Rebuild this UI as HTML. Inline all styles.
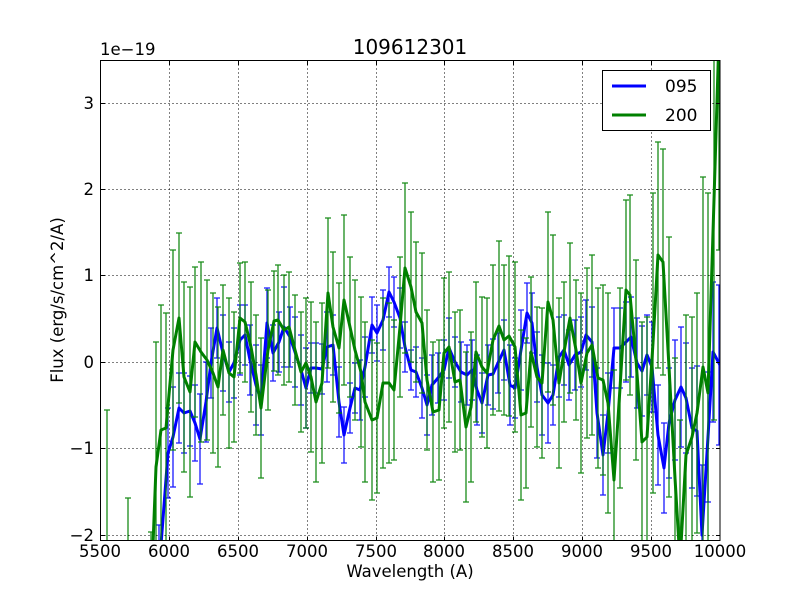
<!DOCTYPE html>
<html><head><meta charset="utf-8"><style>
html,body{margin:0;padding:0;background:#fff;width:800px;height:600px;overflow:hidden}
svg{display:block}
text{font-family:"DejaVu Sans","Liberation Sans",sans-serif;fill:#000}
</style></head><body>
<svg width="800" height="600" viewBox="0 0 800 600" xmlns="http://www.w3.org/2000/svg">
<rect width="800" height="600" fill="#fff"/>
<defs><clipPath id="c"><rect x="100.5" y="60.5" width="619.5" height="480"/></clipPath></defs>
<g stroke="#000" stroke-width="1" stroke-dasharray="1,3" fill="none">
<path d="M169.5 60.5V540.5M238.5 60.5V540.5M307.5 60.5V540.5M376.5 60.5V540.5M444.5 60.5V540.5M513.5 60.5V540.5M582.5 60.5V540.5M651.5 60.5V540.5"/>
<path d="M100.5 103.5H720M100.5 189.5H720M100.5 275.5H720M100.5 362.5H720M100.5 448.5H720M100.5 535.5H720"/>
</g>
<g clip-path="url(#c)">
<path fill="none" stroke="#0000ff" stroke-opacity="0.9" stroke-width="1.3" d="M159 525V545M156 525h6M168 408V498M165 408h6M165 498h6M173 387V487M170 387h6M170 487h6M179 373V443M176 373h6M176 443h6M184 373V453M181 373h6M181 453h6M190 376V446M187 376h6M187 446h6M195 385V461M192 385h6M192 461h6M200 394V484M197 394h6M197 484h6M206 362V442M203 362h6M203 442h6M211 328V398M208 328h6M208 398h6M217 298V358M214 298h6M214 358h6M223 315V391M220 315h6M220 391h6M229 342V402M226 342h6M226 402h6M234 328V398M231 328h6M231 398h6M240 305V375M237 305h6M237 375h6M245 305V365M242 305h6M242 365h6M250 325V395M247 325h6M247 395h6M256 345V425M253 345h6M253 425h6M261 365V435M258 365h6M258 435h6M267 288V358M264 288h6M264 358h6M273 325V381M270 325h6M270 381h6M279 312V372M276 312h6M276 372h6M284 287V367M281 287h6M281 367h6M290 307V367M287 307h6M287 367h6M295 317V387M292 317h6M292 387h6M301 335V405M298 335h6M298 405h6M306 348V428M303 348h6M303 428h6M311 343V393M308 343h6M308 393h6M316 343V393M313 343h6M313 393h6M322 344V394M319 344h6M319 394h6M327 312V382M324 312h6M324 382h6M333 315V375M330 315h6M330 375h6M339 367V437M336 367h6M336 437h6M344 407V463M341 407h6M341 463h6M350 383V433M347 383h6M347 433h6M355 363V413M352 363h6M352 413h6M360 360V420M357 360h6M357 420h6M365 337V397M362 337h6M362 397h6M372 297V353M369 297h6M369 353h6M377 305V361M374 305h6M374 361h6M383 290V350M380 290h6M380 350h6M389 267V317M386 267h6M386 317h6M394 277V327M391 277h6M391 327h6M400 288V348M397 288h6M397 348h6M405 322V372M402 322h6M402 372h6M411 350V390M408 350h6M408 390h6M416 347V397M413 347h6M413 397h6M422 358V418M419 358h6M419 418h6M427 375V435M424 375h6M424 435h6M432 355V415M429 355h6M429 415h6M438 353V403M435 353h6M435 403h6M444 340V400M441 340h6M441 400h6M449 318V378M446 318h6M446 378h6M455 337V387M452 337h6M452 387h6M461 342V402M458 342h6M458 402h6M467 345V405M464 345h6M464 405h6M472 340V400M469 340h6M469 400h6M477 355V425M474 355h6M474 425h6M482 373V433M479 373h6M479 433h6M488 345V405M485 345h6M485 405h6M493 339V409M490 339h6M490 409h6M498 333V393M495 333h6M495 393h6M504 320V380M501 320h6M501 380h6M510 345V425M507 345h6M507 425h6M515 358V418M512 358h6M512 418h6M521 310V390M518 310h6M518 390h6M527 283V343M524 283h6M524 343h6M532 293V353M529 293h6M529 353h6M537 332V402M534 332h6M534 402h6M542 355V435M539 355h6M539 435h6M548 363V443M545 363h6M545 443h6M553 365V425M550 365h6M550 425h6M559 317V397M556 317h6M556 397h6M564 315V385M561 315h6M561 385h6M569 330V400M566 330h6M566 400h6M575 320V390M572 320h6M572 390h6M581 317V387M578 317h6M578 387h6M586 300V370M583 300h6M583 370h6M592 307V377M589 307h6M589 377h6M597 368V458M594 368h6M594 458h6M603 415V495M600 415h6M600 495h6M608 373V453M605 373h6M605 453h6M614 308V388M611 308h6M611 388h6M620 308V388M617 308h6M617 388h6M626 302V382M623 302h6M623 382h6M631 297V377M628 297h6M628 377h6M637 318V408M634 318h6M634 408h6M642 326V416M639 326h6M639 416h6M647 315V395M644 315h6M644 395h6M652 322V412M649 322h6M649 412h6M658 385V485M655 385h6M655 485h6M664 423V513M661 423h6M661 513h6M669 368V478M666 368h6M666 478h6M675 340V460M672 340h6M672 460h6M681 327V447M678 327h6M678 447h6M686 343V453M683 343h6M683 453h6M692 368V488M689 368h6M689 488h6M697 366V496M694 366h6M694 496h6M702 465V545M699 465h6M708 372V502M705 372h6M705 502h6M713 282V422M710 282h6M710 422h6M719 285V445M716 285h6M716 445h6"/>
<polyline fill="none" stroke="#0000ff" stroke-width="3" stroke-linejoin="round" points="161,545 168,453 173,437 179,408 184,413 190,411 195,423 200,439 206,402 211,363 217,328 223,353 229,372 234,363 240,340 245,335 250,360 256,385 261,400 267,323 273,353 279,342 284,327 290,337 295,352 301,370 306,388 311,368 316,368 322,369 327,347 333,345 339,402 344,435 350,408 355,388 360,390 365,367 372,325 377,333 383,320 389,292 394,302 400,318 405,347 411,370 416,372 422,388 427,405 432,385 438,378 444,370 449,348 455,362 461,372 467,375 472,370 477,390 482,403 488,375 493,374 498,363 504,350 510,385 515,388 521,350 527,313 532,323 537,367 542,395 548,403 553,395 559,357 564,350 569,365 575,355 581,352 586,335 592,342 597,413 603,455 608,413 614,348 620,348 626,342 631,337 637,363 642,371 647,355 652,367 658,435 664,468 669,423 675,400 681,387 686,398 692,428 697,431 702,535 708,437 713,352 720,365"/>
<path fill="none" stroke="#008000" stroke-opacity="0.9" stroke-width="1.3" d="M107 410V545M104 410h6M128 498V545M125 498h6M151 532V545M148 532h6M156 342V545M153 342h6M161 305V545M158 305h6M166 313V543M163 313h6M173 250V450M170 250h6M170 450h6M179 233V403M176 233h6M176 403h6M184 282V472M181 282h6M181 472h6M190 287V497M187 287h6M187 497h6M195 267V417M192 267h6M192 417h6M201 262V442M198 262h6M198 442h6M207 280V440M204 280h6M204 440h6M213 293V453M210 293h6M210 453h6M218 307V467M215 307h6M215 467h6M223 285V415M220 285h6M220 415h6M229 298V448M226 298h6M226 448h6M234 312V442M231 312h6M231 442h6M240 263V373M237 263h6M237 373h6M245 262V382M242 262h6M242 382h6M251 282V412M248 282h6M248 412h6M256 315V435M253 315h6M253 435h6M261 338V478M258 338h6M258 478h6M268 290V410M265 290h6M265 410h6M274 271V371M271 271h6M271 371h6M278 265V375M275 265h6M275 375h6M284 275V385M281 275h6M281 385h6M289 272V382M286 272h6M286 382h6M295 295V405M292 295h6M292 405h6M301 312V432M298 312h6M298 432h6M306 298V428M303 298h6M303 428h6M311 302V452M308 302h6M308 452h6M316 322V482M313 322h6M313 482h6M322 303V463M319 303h6M319 463h6M328 218V368M325 218h6M325 368h6M333 252V402M330 252h6M330 402h6M339 283V413M336 283h6M336 413h6M344 215V385M341 215h6M341 385h6M350 257V397M347 257h6M347 397h6M355 280V420M352 280h6M352 420h6M361 297V447M358 297h6M358 447h6M365 322V482M362 322h6M362 482h6M372 340V500M369 340h6M369 500h6M377 343V493M374 343h6M374 493h6M383 298V468M380 298h6M380 468h6M389 303V463M386 303h6M386 463h6M394 320V460M391 320h6M391 460h6M400 257V397M397 257h6M397 397h6M405 183V353M402 183h6M402 353h6M411 212V362M408 212h6M408 362h6M416 242V382M413 242h6M413 382h6M422 253V393M419 253h6M419 393h6M427 310V450M424 310h6M424 450h6M433 342V482M430 342h6M430 482h6M439 340V480M436 340h6M436 480h6M444 278V428M441 278h6M441 428h6M449 272V422M446 272h6M446 422h6M455 312V452M452 312h6M452 452h6M460 310V450M457 310h6M457 450h6M466 352V502M463 352h6M463 502h6M471 332V482M468 332h6M468 482h6M476 282V422M473 282h6M473 422h6M482 297V437M479 297h6M479 437h6M487 298V448M484 298h6M484 448h6M493 265V415M490 265h6M490 415h6M499 241V411M496 241h6M496 411h6M504 265V415M501 265h6M501 415h6M509 256V416M506 256h6M506 416h6M515 262V432M512 262h6M512 432h6M521 330V500M518 330h6M518 500h6M526 338V488M523 338h6M523 488h6M531 277V427M528 277h6M528 427h6M537 307V447M534 307h6M534 447h6M542 308V458M539 308h6M539 458h6M548 212V392M545 212h6M545 392h6M553 235V405M550 235h6M550 405h6M559 298V468M556 298h6M556 468h6M564 282V422M561 282h6M561 422h6M570 243V393M567 243h6M567 393h6M576 280V420M573 280h6M573 420h6M581 293V473M578 293h6M578 473h6M587 268V438M584 268h6M584 438h6M592 255V435M589 255h6M589 435h6M598 288V468M595 288h6M595 468h6M603 285V475M600 285h6M600 475h6M608 293V513M605 293h6M605 513h6M614 370V545M611 370h6M620 288V488M617 288h6M617 488h6M626 200V380M623 200h6M623 380h6M630 195V395M627 195h6M627 395h6M636 260V460M633 260h6M633 460h6M642 322V545M639 322h6M647 317V545M644 317h6M653 193V493M650 193h6M650 493h6M658 142V368M655 142h6M655 368h6M663 149V375M660 149h6M660 375h6M669 237V497M666 237h6M666 497h6M675 358V545M672 358h6M680 420V545M677 420h6M686 315V545M683 315h6M692 317V545M689 317h6M697 293V533M694 293h6M694 533h6M703 177V545M700 177h6M708 193V545M705 193h6M714 55V420M711 420h6M719 55V250M716 250h6"/>
<polyline fill="none" stroke="#008000" stroke-width="3" stroke-linejoin="round" points="153,545 156,467 161,430 166,428 173,350 179,318 184,377 190,392 195,342 201,352 207,360 213,373 218,387 223,350 229,373 234,377 240,318 245,322 251,347 256,375 261,408 268,350 274,321 278,320 284,330 289,327 295,350 301,372 306,363 311,377 316,402 322,383 328,293 333,327 339,348 344,300 350,327 355,350 361,372 365,402 372,420 377,418 383,383 389,383 394,390 400,327 405,268 411,287 416,312 422,323 427,380 433,412 439,410 444,353 449,347 455,382 460,380 466,427 471,407 476,352 482,367 487,373 493,340 499,326 504,340 509,336 515,347 521,415 526,413 531,352 537,377 542,383 548,302 553,320 559,383 564,352 570,318 576,350 581,383 587,353 592,345 598,378 603,380 608,403 614,480 620,388 626,290 630,295 636,360 642,442 647,437 653,343 658,255 663,262 669,367 675,478 679,545 681,545 686,455 692,437 697,413 703,367 708,393 714,200 718.4,55"/>
</g>
<g stroke="#000" stroke-width="1" fill="none">
<path d="M169.5 540.5v-4M238.5 540.5v-4M307.5 540.5v-4M376.5 540.5v-4M444.5 540.5v-4M513.5 540.5v-4M582.5 540.5v-4M651.5 540.5v-4M169.5 60.5v4M238.5 60.5v4M307.5 60.5v4M376.5 60.5v4M444.5 60.5v4M513.5 60.5v4M582.5 60.5v4M651.5 60.5v4"/>
<path d="M100.5 103.5h4M100.5 189.5h4M100.5 275.5h4M100.5 362.5h4M100.5 448.5h4M100.5 535.5h4M720 103.5h-4M720 189.5h-4M720 275.5h-4M720 362.5h-4M720 448.5h-4M720 535.5h-4"/>
<rect x="100.5" y="60.5" width="619.5" height="480"/>
</g>
<g font-size="16.5" text-anchor="middle">
<text x="100" y="557">5500</text>
<text x="169" y="557">6000</text>
<text x="238" y="557">6500</text>
<text x="307" y="557">7000</text>
<text x="376" y="557">7500</text>
<text x="444" y="557">8000</text>
<text x="513" y="557">8500</text>
<text x="582" y="557">9000</text>
<text x="651" y="557">9500</text>
<text x="720" y="557">10000</text>
</g>
<g font-size="16.5" text-anchor="end">
<text x="94" y="109">3</text>
<text x="94" y="195">2</text>
<text x="94" y="281">1</text>
<text x="94" y="368">0</text>
<text x="94" y="454">−1</text>
<text x="94" y="541">−2</text>
</g>
<text x="100" y="55" font-size="16.5">1e−19</text>
<text x="410" y="54" font-size="20" text-anchor="middle">109612301</text>
<text x="410" y="577" font-size="16.5" text-anchor="middle">Wavelength (A)</text>
<text x="0" y="0" font-size="16.5" text-anchor="middle" transform="translate(63,300) rotate(-90)">Flux (erg/s/cm^2/A)</text>
<rect x="602.5" y="70.5" width="108" height="60" fill="#fff" stroke="#000" stroke-width="1"/>
<line x1="612" y1="86" x2="646" y2="86" stroke="#0000ff" stroke-width="3"/>
<line x1="612" y1="115" x2="646" y2="115" stroke="#008000" stroke-width="3"/>
<text x="665" y="92" font-size="17">095</text>
<text x="665" y="121" font-size="17">200</text>
</svg>
</body></html>
